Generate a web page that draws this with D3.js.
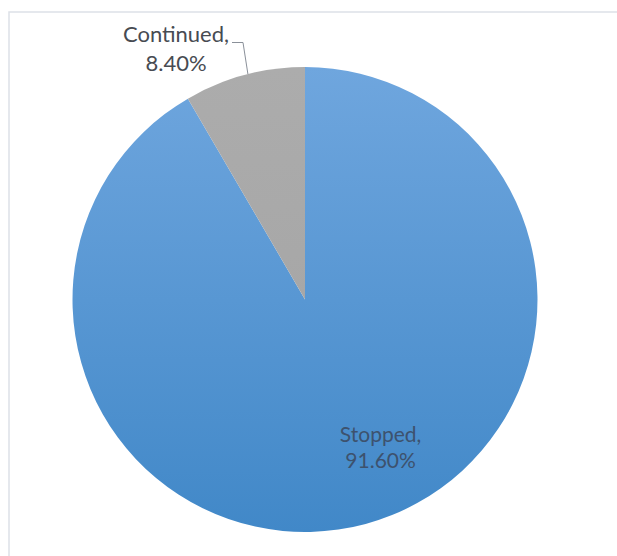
<!DOCTYPE html>
<html>
<head>
<meta charset="utf-8">
<script src="https://cdn.jsdelivr.net/npm/d3@7"></script>
<style>
  html, body { margin: 0; padding: 0; background: #fff; }
  svg { display: block; }
</style>
</head>
<body>
<svg id="chart" width="617" height="556"></svg>
<script>
// Outcome shares, in percent
const categories = ["Stopped", "Continued"];
const values = [91.6, 8.4];
const valueLabels = ["91.60%", "8.40%"];

const width = 617, height = 556;
const cx = 305, cy = 299.5, radius = 232.5;

const svg = d3.select("#chart");

// Chart area frame
svg.append("rect")
  .attr("x", 9).attr("y", 12)
  .attr("width", width + 20).attr("height", height + 20)
  .attr("fill", "none")
  .attr("stroke", "#dde1e7")
  .attr("stroke-width", 1.5);

// Vertical shading for each slice (coordinates relative to pie centre)
const defs = svg.append("defs");
const shades = {
  Stopped: ["#6fa6de", "#4188c8"],
  Continued: ["#acacac", "#a2a2a2"]
};
categories.forEach((c, i) => {
  const g = defs.append("linearGradient")
    .attr("id", "grad-" + i)
    .attr("gradientUnits", "userSpaceOnUse")
    .attr("x1", 0).attr("y1", -radius)
    .attr("x2", 0).attr("y2", radius);
  g.append("stop").attr("offset", "0%").attr("stop-color", shades[c][0]);
  g.append("stop").attr("offset", "100%").attr("stop-color", shades[c][1]);
});

const data = categories.map((c, i) => ({ name: c, value: values[i], label: valueLabels[i], idx: i }));

const pie = d3.pie().value(d => d.value).sort(null);
const arcs = pie(data);
const arc = d3.arc().innerRadius(0).outerRadius(radius);

const g = svg.append("g").attr("transform", `translate(${cx},${cy})`);

g.selectAll("path.slice")
  .data(arcs)
  .join("path")
  .attr("class", "slice")
  .attr("d", arc)
  .attr("fill", d => `url(#grad-${d.data.idx})`);

const font = "Lato, 'Open Sans', sans-serif";

// Stopped: label inside the slice
const stopArc = arcs[0];
const inner = d3.arc().innerRadius(radius * 0.745).outerRadius(radius * 0.745);
const [sx, sy] = inner.centroid({ startAngle: 2.69, endAngle: 2.69 });
const stopText = g.append("text")
  .attr("text-anchor", "middle")
  .attr("font-family", font)
  .attr("font-size", 21)
  .attr("fill", "#3d526e");
stopText.append("tspan").attr("x", sx).attr("y", sy - 13).text(stopArc.data.name + ",");
stopText.append("tspan").attr("x", sx).attr("y", sy + 13).text(stopArc.data.label);

// Continued: label outside with a leader line
const contArc = arcs[1];
const lx = 176 - cx, ly = 42 - cy;
const contText = g.append("text")
  .attr("text-anchor", "middle")
  .attr("font-family", font)
  .attr("font-size", 22)
  .attr("fill", "#474b52");
contText.append("tspan").attr("x", lx).attr("y", ly).text(contArc.data.name + ",");
contText.append("tspan").attr("x", lx).attr("y", ly + 29).text(contArc.data.label);

const edgeAngle = contArc.startAngle + (contArc.endAngle - contArc.startAngle) * 0.53;
const ex = radius * Math.sin(edgeAngle);
const ey = -radius * Math.cos(edgeAngle);
g.append("path")
  .attr("d", `M${232 - cx},${42.5 - cy} L${243 - cx},${42.5 - cy} L${ex},${ey}`)
  .attr("fill", "none")
  .attr("stroke", "#8a9099")
  .attr("stroke-width", 1);
</script>
</body>
</html>
